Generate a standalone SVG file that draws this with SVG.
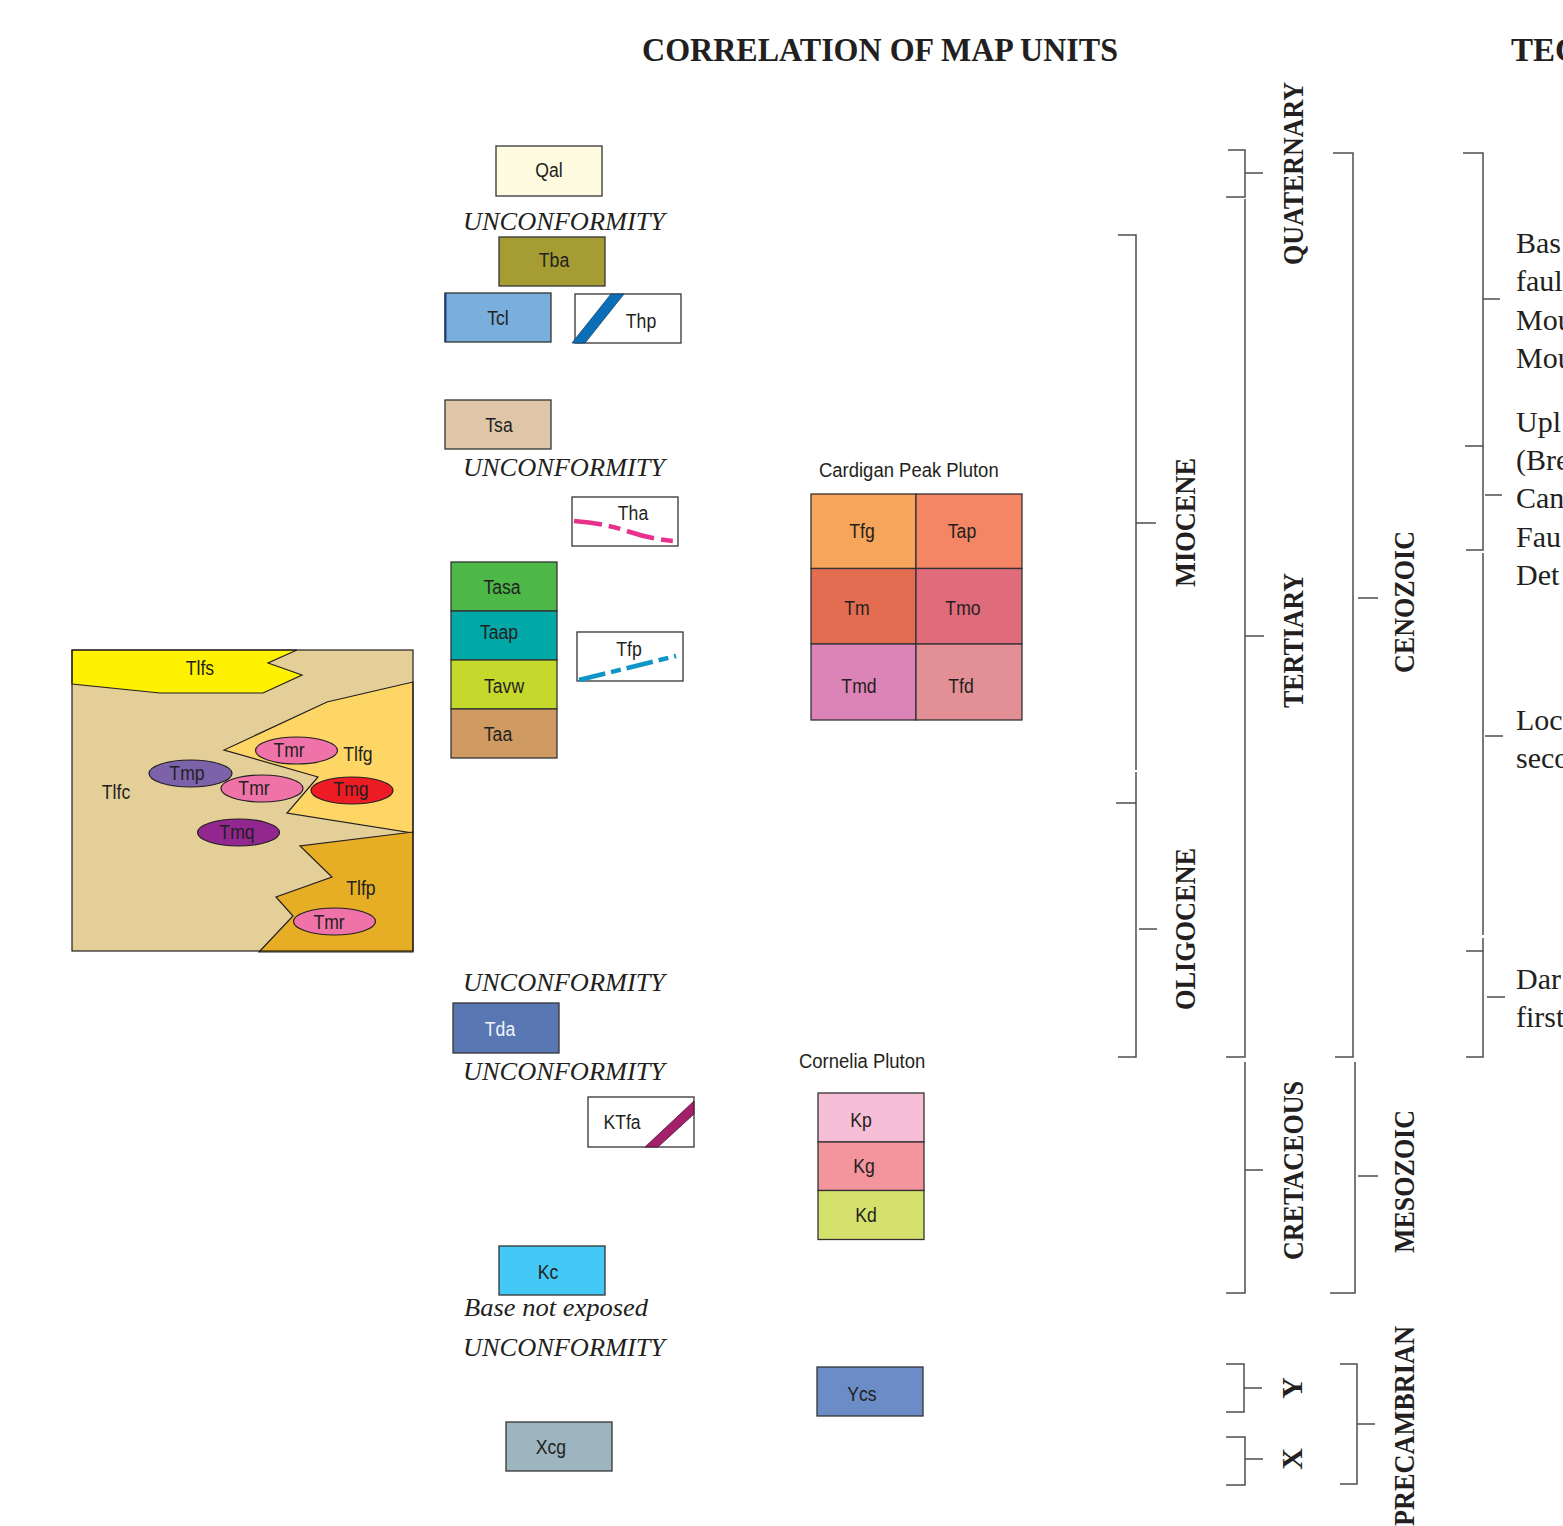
<svg xmlns="http://www.w3.org/2000/svg" width="1563" height="1526" viewBox="0 0 1563 1526">
<style>
.box{stroke:#333;stroke-width:1.3}
.lbl{font-family:"Liberation Sans",Arial,sans-serif;font-size:21px;fill:#231f20;text-anchor:middle;transform-box:fill-box;transform-origin:50% 50%;transform:scaleX(0.84)}
.cap{font-family:"Liberation Sans",Arial,sans-serif;font-size:21px;fill:#231f20;transform-box:fill-box;transform-origin:0% 50%;transform:scaleX(0.88)}
.unc{font-family:"Liberation Serif","Times New Roman",serif;font-style:italic;font-size:26px;fill:#231f20}
.vt{font-family:"Liberation Serif","Times New Roman",serif;font-weight:bold;font-size:30px;fill:#231f20;text-anchor:middle}
.rt{font-family:"Liberation Serif","Times New Roman",serif;font-size:30px;fill:#231f20}
.br{fill:none;stroke:#4d4d4d;stroke-width:1.5}
.mapline{stroke:#231f20;stroke-width:1.2}
</style>
<rect width="1563" height="1526" fill="#fff"/>
<text x="642" y="61" font-family="Liberation Serif,Times New Roman,serif" font-weight="bold" font-size="33" fill="#231f20" textLength="476" lengthAdjust="spacingAndGlyphs">CORRELATION OF MAP UNITS</text>
<text x="1511" y="61" font-family="Liberation Serif,Times New Roman,serif" font-weight="bold" font-size="33" fill="#231f20">TEC</text>

<g id="Qal"><rect class="box" x="496" y="146" width="106" height="50" fill="#fefbe0"/><text class="lbl" x="549" y="177">Qal</text></g>
<text class="unc" x="463" y="230" textLength="202" lengthAdjust="spacingAndGlyphs">UNCONFORMITY</text>
<g id="Tba"><rect class="box" x="499" y="237" width="106" height="49" fill="#a59c34"/><text class="lbl" x="554" y="267">Tba</text></g>
<g id="Tcl"><rect class="box" x="445" y="293" width="106" height="49" fill="#7aaedc"/><line x1="445.5" y1="293" x2="445.5" y2="342" stroke="#1f3a6e" stroke-width="2"/><text class="lbl" x="498" y="325">Tcl</text></g>
<g id="Thp"><rect class="box" x="575" y="294" width="106" height="49" fill="#fff"/><polygon points="572,343 585,343 624,294 611,294" fill="#0b6fb8" stroke="#1a3d6b" stroke-width="0.8"/><text class="lbl" x="641" y="328">Thp</text></g>
<g id="Tsa"><rect class="box" x="445" y="400" width="106" height="49" fill="#dfc6a9"/><text class="lbl" x="499" y="432">Tsa</text></g>
<text class="unc" x="463" y="476" textLength="202" lengthAdjust="spacingAndGlyphs">UNCONFORMITY</text>
<g id="Tha"><rect class="box" x="572" y="497" width="106" height="49" fill="#fff"/><path d="M574,521 C600,523 615,527 630,532 C645,537 660,540 674,541" fill="none" stroke="#e8318c" stroke-width="4.5" stroke-dasharray="28 7 12 7"/><text class="lbl" x="633" y="520">Tha</text></g>
<g id="Tfp"><rect class="box" x="577" y="632" width="106" height="49" fill="#fff"/><path d="M579,680 L676,656" fill="none" stroke="#0e96c8" stroke-width="4.5" stroke-dasharray="27 6 10 6"/><text class="lbl" x="629" y="656">Tfp</text></g>
<g id="Tasa"><rect class="box" x="451" y="562" width="106" height="49" fill="#4db848"/><text class="lbl" x="502" y="594">Tasa</text></g>
<g id="Taap"><rect class="box" x="451" y="611" width="106" height="49" fill="#00a8a8"/><text class="lbl" x="499" y="639">Taap</text></g>
<g id="Tavw"><rect class="box" x="451" y="660" width="106" height="49" fill="#c5d92d"/><text class="lbl" x="504" y="693">Tavw</text></g>
<g id="Taa"><rect class="box" x="451" y="709" width="106" height="49" fill="#cf9b63"/><text class="lbl" x="498" y="741">Taa</text></g>

<text class="cap" x="819" y="477">Cardigan Peak Pluton</text>
<g id="Tfg"><rect class="box" x="811" y="494" width="105" height="74.5" fill="#f6a55b"/><text class="lbl" x="862" y="538">Tfg</text></g>
<g id="Tap"><rect class="box" x="916" y="494" width="106" height="74.5" fill="#f48665"/><text class="lbl" x="962" y="538">Tap</text></g>
<g id="Tm"><rect class="box" x="811" y="568.5" width="105" height="75.5" fill="#e36c51"/><text class="lbl" x="857" y="615">Tm</text></g>
<g id="Tmo"><rect class="box" x="916" y="568.5" width="106" height="75.5" fill="#e06b7b"/><text class="lbl" x="963" y="615">Tmo</text></g>
<g id="Tmd"><rect class="box" x="811" y="644" width="105" height="76" fill="#dc83b7"/><text class="lbl" x="859" y="693">Tmd</text></g>
<g id="Tfd"><rect class="box" x="916" y="644" width="106" height="76" fill="#e29095"/><text class="lbl" x="961" y="693">Tfd</text></g>

<g id="map">
<rect x="72" y="650" width="341" height="301" fill="#e4cf98"/>
<polygon class="mapline" points="72,650 297,650 268,663 302,675 263,693 160,693 72,684" fill="#fff200"/>
<polygon class="mapline" points="413,682 327,702 224,750 318,777 287,813 413,833" fill="#fed666"/>
<polygon class="mapline" points="413,832 300,846 332,877 276,897 293,916 259,952 413,952" fill="#e5ae25"/>
<rect x="72" y="650" width="341" height="301" fill="none" stroke="#231f20" stroke-width="1.2"/>
<g id="Tmr1"><ellipse class="mapline" cx="296.5" cy="750.5" rx="41" ry="13.5" fill="#ef73a8"/><text class="lbl" x="289" y="757">Tmr</text></g>
<g id="Tmp"><ellipse class="mapline" cx="190.5" cy="773.5" rx="41.5" ry="13.5" fill="#7b62a9"/><text class="lbl" x="187" y="780">Tmp</text></g>
<g id="Tmr2"><ellipse class="mapline" cx="262" cy="788.5" rx="41" ry="13.5" fill="#ef73a8"/><text class="lbl" x="254" y="795">Tmr</text></g>
<g id="Tmg"><ellipse class="mapline" cx="352" cy="790.5" rx="41" ry="13.5" fill="#ed1c24"/><text class="lbl" x="351" y="796">Tmg</text></g>
<g id="Tmq"><ellipse class="mapline" cx="238.5" cy="832.5" rx="41" ry="13.5" fill="#92278f"/><text class="lbl" x="237" y="839">Tmq</text></g>
<g id="Tmr3"><ellipse class="mapline" cx="334.5" cy="921.5" rx="41" ry="13.5" fill="#ef73a8"/><text class="lbl" x="329" y="929">Tmr</text></g>
<text class="lbl" x="200" y="675">Tlfs</text>
<text class="lbl" x="358" y="761">Tlfg</text>
<text class="lbl" x="116" y="799">Tlfc</text>
<text class="lbl" x="361" y="895">Tlfp</text>
</g>

<text class="unc" x="463" y="991" textLength="202" lengthAdjust="spacingAndGlyphs">UNCONFORMITY</text>
<g id="Tda"><rect class="box" x="453" y="1003" width="106" height="50" fill="#5978b3"/><text class="lbl" x="500" y="1036" style="fill:#f2f4fa">Tda</text></g>
<text class="unc" x="463" y="1080" textLength="202" lengthAdjust="spacingAndGlyphs">UNCONFORMITY</text>
<g id="KTfa"><rect class="box" x="588" y="1097" width="106" height="50" fill="#fff"/><polygon points="645,1147 658,1147 694,1114 694,1101" fill="#a3206a" stroke="#4a1030" stroke-width="0.8"/><text class="lbl" x="622" y="1129">KTfa</text></g>
<g id="Kc"><rect class="box" x="499" y="1246" width="106" height="49" fill="#44c8f5"/><text class="lbl" x="548" y="1279">Kc</text></g>
<text class="unc" x="464" y="1316" textLength="184" lengthAdjust="spacingAndGlyphs">Base not exposed</text>
<text class="unc" x="463" y="1356" textLength="202" lengthAdjust="spacingAndGlyphs">UNCONFORMITY</text>
<g id="Xcg"><rect class="box" x="506" y="1422" width="106" height="49" fill="#9db5bf"/><text class="lbl" x="551" y="1454">Xcg</text></g>

<text class="cap" x="799" y="1068">Cornelia Pluton</text>
<g id="Kp"><rect class="box" x="818" y="1093" width="106" height="49" fill="#f7bed8"/><text class="lbl" x="861" y="1127">Kp</text></g>
<g id="Kg"><rect class="box" x="818" y="1142" width="106" height="48.5" fill="#f4959e"/><text class="lbl" x="864" y="1173">Kg</text></g>
<g id="Kd"><rect class="box" x="818" y="1190.5" width="106" height="49" fill="#d5e16d"/><text class="lbl" x="866" y="1222">Kd</text></g>
<g id="Ycs"><rect class="box" x="817" y="1367" width="106" height="49" fill="#6c8cc7"/><text class="lbl" x="862" y="1401">Ycs</text></g>

<g id="connectors">
<path class="br" d="M1118,235 H1136 V770 M1136,523 H1156"/>
<path class="br" d="M1116,803 H1136 M1136,772 V1057 H1118 M1139,929 H1157"/>
<path class="br" d="M1228,150 H1245 V197 H1226 M1245,173 H1263"/>
<path class="br" d="M1245,199 V1057 H1226 M1245,636 H1264"/>
<path class="br" d="M1333,153 H1353 V1057 H1335 M1358,598 H1378"/>
<path class="br" d="M1245,1062 V1293 H1226 M1245,1170 H1263"/>
<path class="br" d="M1355,1062 V1293 H1330 M1358,1176 H1378"/>
<path class="br" d="M1226,1364 H1244 V1412 H1226 M1244,1388 H1262"/>
<path class="br" d="M1226,1437 H1245 V1485 H1226 M1245,1459 H1263"/>
<path class="br" d="M1340,1364 H1357 V1484 H1340 M1357,1424 H1375"/>
<path class="br" d="M1463,153 H1483 V446 H1465 M1483,299 H1500"/>
<path class="br" d="M1483,446 V550 H1466 M1485,495 H1502"/>
<path class="br" d="M1483,553 V935 M1485,736 H1503"/>
<path class="br" d="M1466,951 H1483 M1483,938 V1057 H1466 M1487,997 H1505"/>
</g>

<g id="timescale">
<text class="vt" transform="translate(1195,522.5) rotate(-90)" textLength="129" lengthAdjust="spacingAndGlyphs">MIOCENE</text>
<text class="vt" transform="translate(1195,929) rotate(-90)" textLength="162" lengthAdjust="spacingAndGlyphs">OLIGOCENE</text>
<text class="vt" transform="translate(1303,173.5) rotate(-90)" textLength="183" lengthAdjust="spacingAndGlyphs">QUATERNARY</text>
<text class="vt" transform="translate(1303,640.5) rotate(-90)" textLength="135" lengthAdjust="spacingAndGlyphs">TERTIARY</text>
<text class="vt" transform="translate(1303,1170.5) rotate(-90)" textLength="179" lengthAdjust="spacingAndGlyphs">CRETACEOUS</text>
<text class="vt" transform="translate(1302,1388) rotate(-90)">Y</text>
<text class="vt" transform="translate(1302,1459) rotate(-90)">X</text>
<text class="vt" transform="translate(1414,602) rotate(-90)" textLength="142" lengthAdjust="spacingAndGlyphs">CENOZOIC</text>
<text class="vt" transform="translate(1414,1181.5) rotate(-90)" textLength="143" lengthAdjust="spacingAndGlyphs">MESOZOIC</text>
<text class="vt" transform="translate(1414,1426) rotate(-90)" textLength="200" lengthAdjust="spacingAndGlyphs">PRECAMBRIAN</text>
</g>

<g id="tectonic">
<text class="rt" x="1516" y="253">Bas</text>
<text class="rt" x="1516" y="291">faul</text>
<text class="rt" x="1516" y="330">Mou</text>
<text class="rt" x="1516" y="368">Mou</text>
<text class="rt" x="1516" y="432">Upl</text>
<text class="rt" x="1516" y="470">(Bre</text>
<text class="rt" x="1516" y="508">Can</text>
<text class="rt" x="1516" y="547">Fau</text>
<text class="rt" x="1516" y="585">Det</text>
<text class="rt" x="1516" y="730">Loc</text>
<text class="rt" x="1516" y="768">seco</text>
<text class="rt" x="1516" y="989">Dar</text>
<text class="rt" x="1516" y="1027">first</text>
</g>
</svg>
